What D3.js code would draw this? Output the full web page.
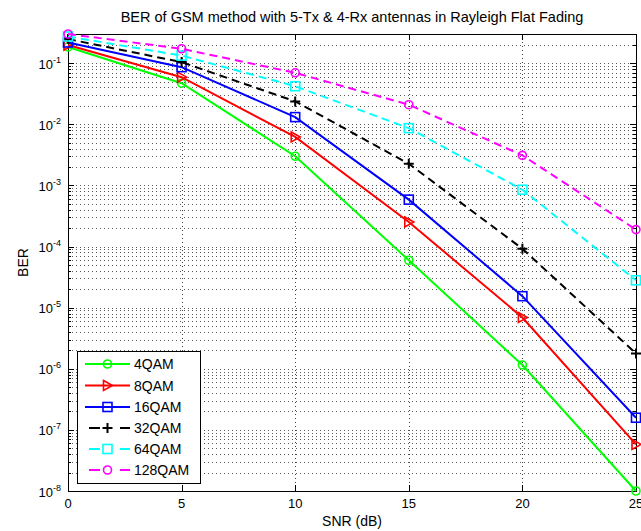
<!DOCTYPE html>
<html>
<head>
<meta charset="utf-8">
<script src="https://cdn.jsdelivr.net/npm/d3@7/dist/d3.min.js"></script>
<style>
  html, body { margin: 0; padding: 0; background: #fff; }
  svg { display: block; }
  text { font-family: "Liberation Sans", Arial, Helvetica, sans-serif; fill: #000; }
</style>
</head>
<body>
<svg id="chart" width="641" height="531"></svg>
<script>
// ---- data ----
const snr = [0, 5, 10, 15, 20, 25];
const ber4QAM   = [0.184, 0.047, 0.0030, 5.96e-5, 1.15e-6, 1.0e-8];
const ber8QAM   = [0.198, 0.059, 0.0062, 2.52e-4, 6.9e-6, 5.8e-8];
const ber16QAM  = [0.218, 0.086, 0.0131, 5.85e-4, 1.54e-5, 1.58e-7];
const ber32QAM  = [0.248, 0.104, 0.0237, 2.26e-3, 9.2e-5, 1.78e-6];
const ber64QAM  = [0.273, 0.133, 0.042, 8.65e-3, 8.5e-4, 2.8e-5];
const ber128QAM = [0.300, 0.172, 0.0695, 0.0209, 3.1e-3, 1.89e-4];
const seriesNames = ["4QAM", "8QAM", "16QAM", "32QAM", "64QAM", "128QAM"];
const xTicks = [0, 5, 10, 15, 20, 25];
const yExponents = [-1, -2, -3, -4, -5, -6, -7, -8];
const titleText = "BER of GSM method with 5-Tx & 4-Rx antennas in Rayleigh Flat Fading";
const xLabel = "SNR (dB)";
const yLabel = "BER";

const seriesValues = [ber4QAM, ber8QAM, ber16QAM, ber32QAM, ber64QAM, ber128QAM];
const styles = [
  { color: "#00ff00", dash: null, marker: "circle" },
  { color: "#ff0000", dash: null, marker: "triangle" },
  { color: "#0000ff", dash: null, marker: "square" },
  { color: "#000000", dash: "8,5", marker: "plus" },
  { color: "#00ffff", dash: "8,5", marker: "square" },
  { color: "#ff00ff", dash: "8,5", marker: "circle" }
];

const svg = d3.select("#chart");
const L = 68, R = 636, T = 34, B = 491;

const x = d3.scaleLinear().domain([0, 25]).range([L, R]);
const y = d3.scaleLog().domain([1e-8, 0.3]).range([B, T]);

// ---- grid ----
const grid = svg.append("g");
const minorVals = [];
for (let d = -8; d <= -1; d++) {
  for (let k = 1; k <= 9; k++) {
    const v = k * Math.pow(10, d);
    if (v >= 1e-8 && v < 0.3) minorVals.push({ v, major: k === 1 });
  }
}
grid.selectAll("line.yg").data(minorVals).enter().append("line")
  .attr("x1", L).attr("x2", R)
  .attr("y1", d => Math.round(y(d.v)) + 0.5).attr("y2", d => Math.round(y(d.v)) + 0.5)
  .attr("stroke", "#000").attr("stroke-width", 1)
  .attr("stroke-dasharray", "1,3").attr("opacity", 0.65);
grid.selectAll("line.xg").data(xTicks.slice(1, -1)).enter().append("line")
  .attr("x1", d => Math.round(x(d)) + 0.5).attr("x2", d => Math.round(x(d)) + 0.5)
  .attr("y1", T).attr("y2", B)
  .attr("stroke", "#000").attr("stroke-width", 1)
  .attr("stroke-dasharray", "1,3").attr("opacity", 0.75);

// ---- ticks ----
const ticks = svg.append("g").attr("stroke", "#000").attr("stroke-width", 1);
minorVals.forEach(d => {
  const yy = Math.round(y(d.v)) + 0.5;
  const len = d.major ? 6 : 3;
  ticks.append("line").attr("x1", L).attr("x2", L + len).attr("y1", yy).attr("y2", yy);
  ticks.append("line").attr("x1", R - len).attr("x2", R).attr("y1", yy).attr("y2", yy);
});
xTicks.forEach(t => {
  const xx = Math.round(x(t)) + 0.5;
  ticks.append("line").attr("x1", xx).attr("x2", xx).attr("y1", B).attr("y2", B - 6);
  ticks.append("line").attr("x1", xx).attr("x2", xx).attr("y1", T).attr("y2", T + 6);
});

// ---- axis box ----
svg.append("rect").attr("x", L + 0.5).attr("y", T + 0.5)
  .attr("width", R - L).attr("height", B - T)
  .attr("fill", "none").attr("stroke", "#000").attr("stroke-width", 1);

// ---- tick labels ----
svg.append("g").selectAll("text").data(xTicks).enter().append("text")
  .attr("x", d => x(d)).attr("y", 508)
  .attr("text-anchor", "middle").attr("font-size", 13)
  .text(d => d);

const yl = svg.append("g").selectAll("text").data(yExponents).enter().append("text")
  .attr("x", 61).attr("y", d => y(Math.pow(10, d)) + 5.5)
  .attr("text-anchor", "end").attr("font-size", 13);
yl.append("tspan").text("10");
yl.append("tspan").attr("font-size", 9).attr("dy", -6).text(d => d);

// ---- axis labels / title ----
svg.append("text").attr("x", (L + R) / 2).attr("y", 526)
  .attr("text-anchor", "middle").attr("font-size", 14).text(xLabel);
svg.append("text").attr("transform", `translate(28,${(T + B) / 2}) rotate(-90)`)
  .attr("text-anchor", "middle").attr("font-size", 14).text(yLabel);
svg.append("text").attr("x", (L + R) / 2).attr("y", 22)
  .attr("text-anchor", "middle").attr("font-size", 14.5).text(titleText);

// ---- markers ----
function drawMarker(g, type, cx, cy, color) {
  if (type === "circle") {
    g.append("circle").attr("cx", cx).attr("cy", cy).attr("r", 4)
      .attr("fill", "none").attr("stroke", color).attr("stroke-width", 1.6);
  } else if (type === "square") {
    g.append("rect").attr("x", cx - 4.5).attr("y", cy - 4.5).attr("width", 9).attr("height", 9)
      .attr("fill", "none").attr("stroke", color).attr("stroke-width", 1.6);
  } else if (type === "triangle") {
    g.append("path").attr("d", `M${cx - 4},${cy - 5}L${cx + 5},${cy}L${cx - 4},${cy + 5}Z`)
      .attr("fill", "none").attr("stroke", color).attr("stroke-width", 1.6);
  } else if (type === "plus") {
    g.append("path").attr("d", `M${cx - 5},${cy}H${cx + 5}M${cx},${cy - 5}V${cy + 5}`)
      .attr("fill", "none").attr("stroke", color).attr("stroke-width", 2);
  }
}

// ---- series ----
const line = d3.line().x(d => x(d[0])).y(d => y(d[1]));
seriesValues.forEach((vals, i) => {
  const st = styles[i];
  const pts = snr.map((s, j) => [s, vals[j]]);
  const g = svg.append("g");
  g.append("path").datum(pts).attr("d", line)
    .attr("fill", "none").attr("stroke", st.color).attr("stroke-width", 2)
    .attr("stroke-dasharray", st.dash);
  pts.forEach(p => drawMarker(g, st.marker, x(p[0]), y(p[1]), st.color));
});

// ---- legend ----
const lg = svg.append("g");
lg.append("rect").attr("x", 77.5).attr("y", 351.5).attr("width", 123).attr("height", 132)
  .attr("fill", "#fff").attr("stroke", "#000").attr("stroke-width", 1);
const legendY = [364, 385.5, 407, 428, 449, 470];
seriesNames.forEach((name, i) => {
  const st = styles[i];
  const yy = legendY[i];
  lg.append("line").attr("x1", 85).attr("x2", 130).attr("y1", yy).attr("y2", yy)
    .attr("stroke", st.color).attr("stroke-width", 2)
    .attr("stroke-dasharray", st.dash ? "11,20" : null)
    .attr("stroke-dashoffset", st.dash ? 27 : null);
  drawMarker(lg, st.marker, 107.5, yy, st.color);
  lg.append("text").attr("x", 134).attr("y", yy + 5).attr("font-size", 14).text(name);
});
</script>
</body>
</html>
